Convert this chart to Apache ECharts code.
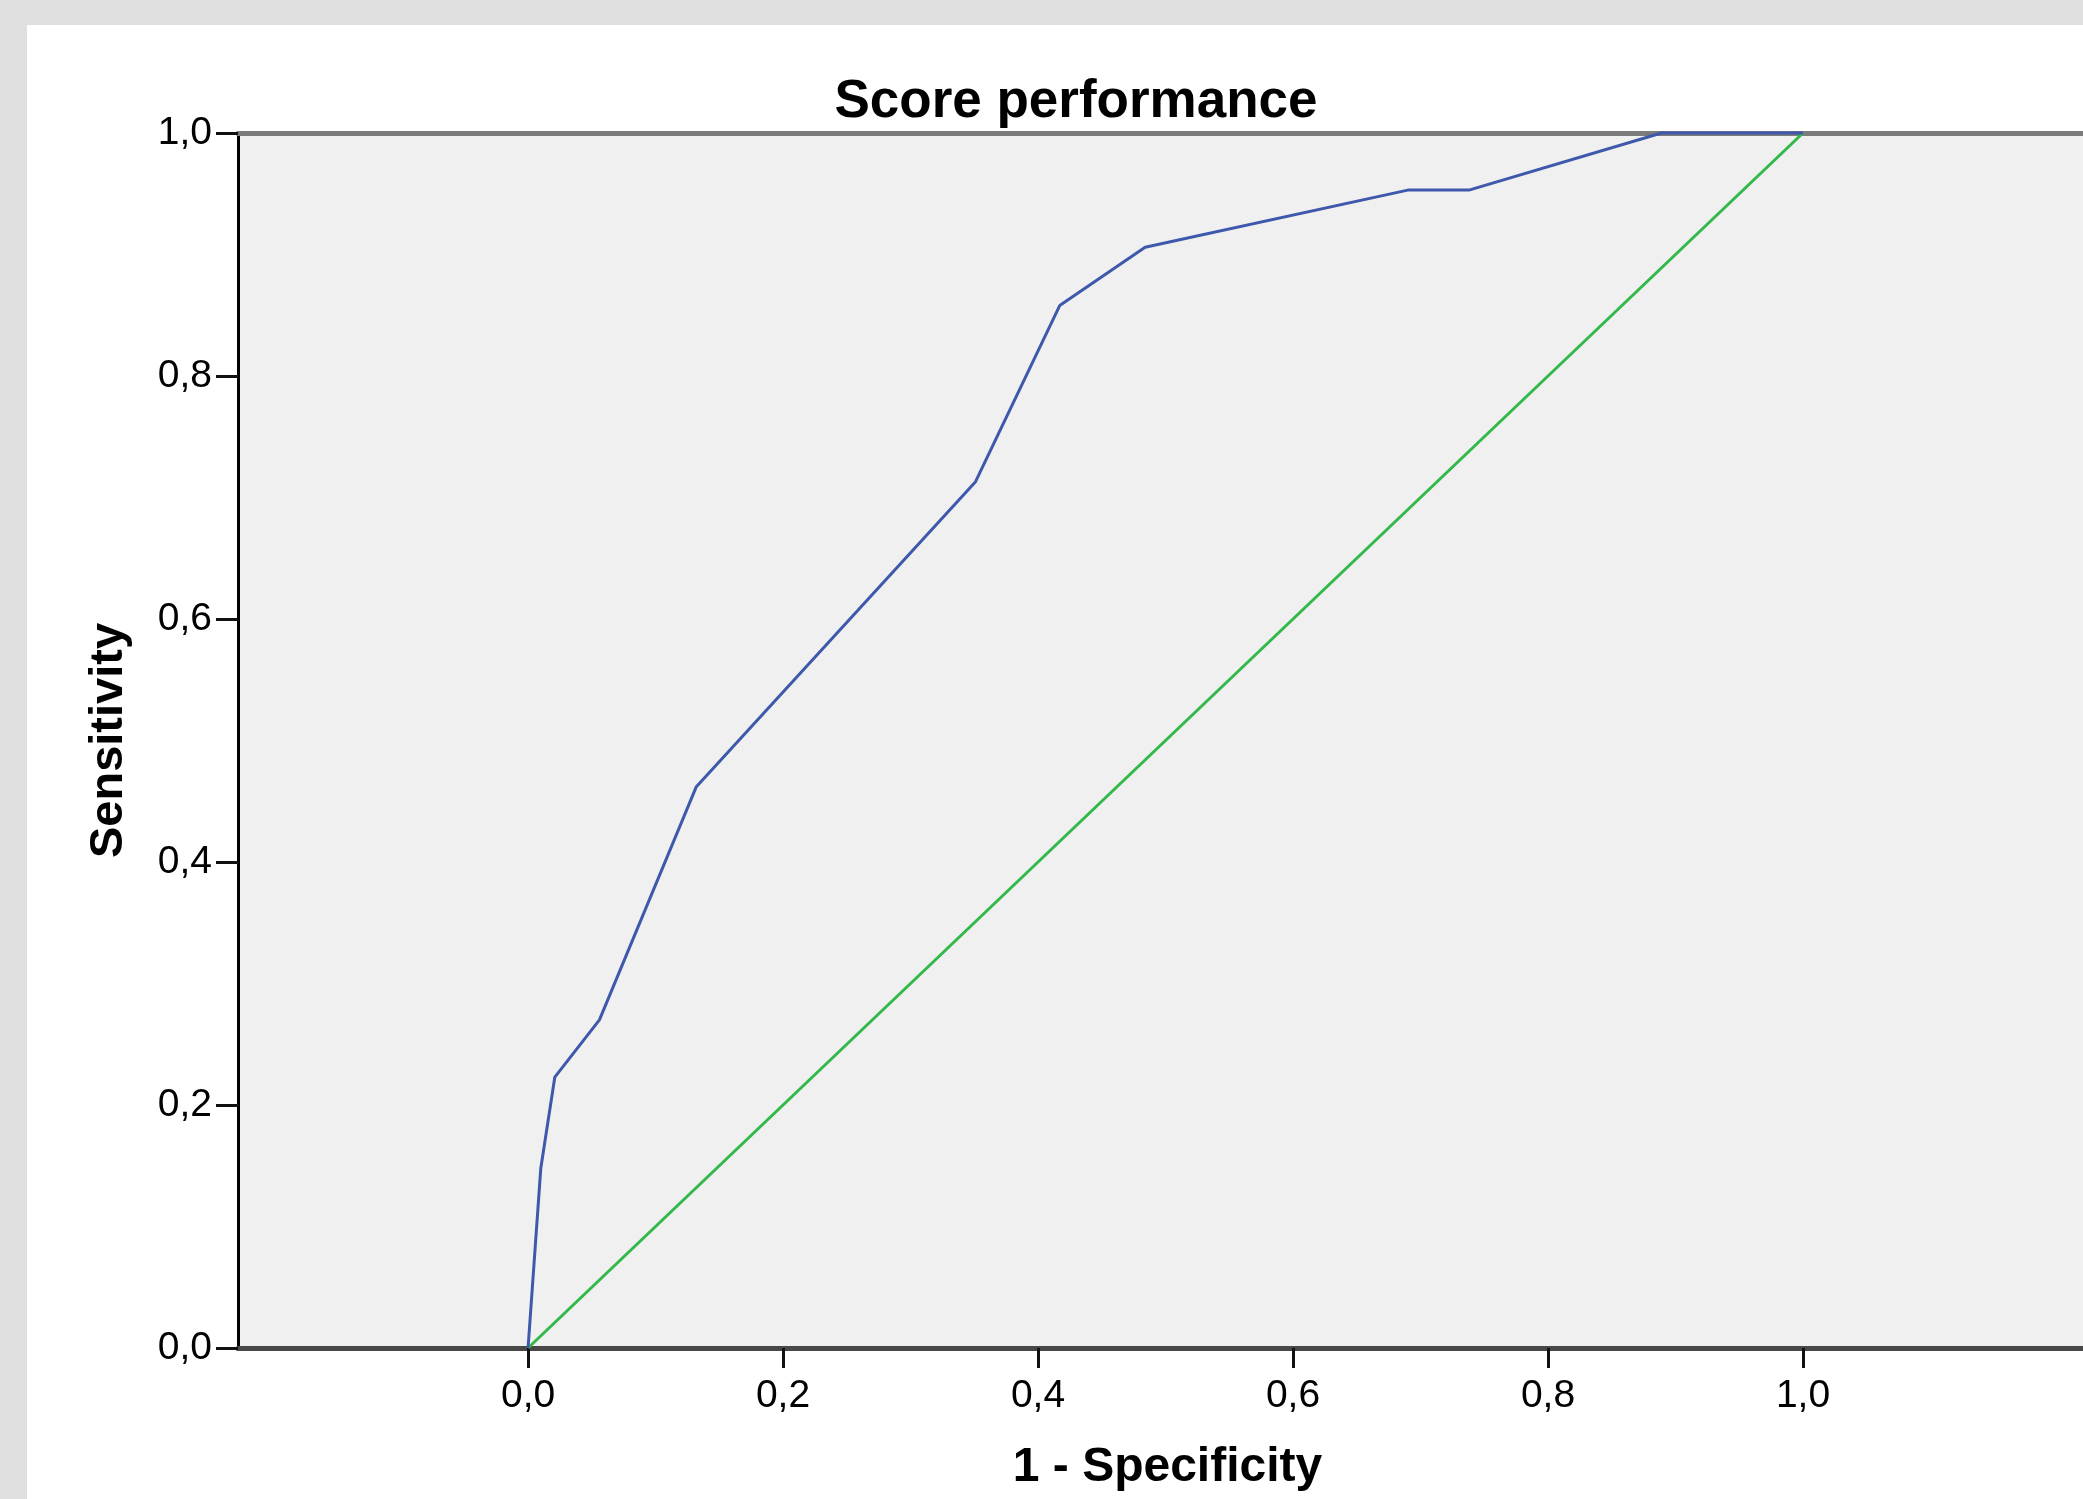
<!DOCTYPE html>
<html>
<head>
<meta charset="utf-8">
<script src="https://cdn.jsdelivr.net/npm/echarts@6/dist/echarts.min.js"></script>
<style>
  html, body { margin: 0; padding: 0; background: #e0e0e0; width: 2083px; height: 1499px; overflow: hidden; }
  #chart { position: absolute; left: 27px; top: 25px; width: 2056px; height: 1474px; background: #ffffff; }
</style>
</head>
<body>
<div id="chart"></div>
<script>
// ---- Data ----
const chartTitle = 'Score performance';
const xAxisTitle = '1 - Specificity';
const yAxisTitle = 'Sensitivity';
const xTickValues = [0, 0.2, 0.4, 0.6, 0.8, 1.0];
const yTickValues = [0, 0.2, 0.4, 0.6, 0.8, 1.0];
// ROC curve (1 - specificity, sensitivity)
const rocFpr = [0, 0.010, 0.021, 0.056, 0.132, 0.351, 0.417, 0.484, 0.690, 0.738, 0.889, 1.0];
const rocTpr = [0, 0.148, 0.223, 0.270, 0.462, 0.713, 0.858, 0.906, 0.953, 0.953, 1.0, 1.0];
// Reference diagonal
const refX = [0, 1];
const refY = [0, 1];

const fmt = v => (Math.round(v * 10) / 10).toFixed(1).replace('.', ',');
const FONT = "'Liberation Sans', Arial, Helvetica, sans-serif";

const chart = echarts.init(document.getElementById('chart'), null, { renderer: 'canvas' });
const option = {
  animation: false,
  backgroundColor: '#ffffff',
  title: {
    text: chartTitle,
    left: 1049,
    top: 51,
    textAlign: 'center',
    padding: 0,
    textStyle: { fontFamily: FONT, fontSize: 53, fontWeight: 'bold', color: '#000000' }
  },
  grid: {
    left: 211, top: 108, right: -14, bottom: 151,
    show: true, backgroundColor: '#f0f0f0', borderWidth: 0,
    containLabel: false,
    outerBoundsMode: 'none'
  },
  xAxis: [
    {
      type: 'value',
      min: -0.2275, max: 1.2306,
      position: 'bottom',
      name: xAxisTitle,
      nameLocation: 'middle',
      nameGap: 96,
      nameTextStyle: { fontFamily: FONT, fontSize: 48, fontWeight: 'bold', color: '#000000' },
      splitLine: { show: false },
      axisLine: { show: true, onZero: false, lineStyle: { color: '#474747', width: 5 } },
      axisTick: { show: true, customValues: xTickValues, length: 20, lineStyle: { color: '#111111', width: 3 } },
      axisLabel: { show: true, customValues: xTickValues, formatter: fmt, margin: 29,
                   fontFamily: FONT, fontSize: 39, color: '#000000' }
    },
    {
      type: 'value',
      min: -0.2275, max: 1.2306,
      position: 'top',
      splitLine: { show: false },
      axisLine: { show: true, onZero: false, lineStyle: { color: '#7c7c7c', width: 5 } },
      axisTick: { show: false },
      axisLabel: { show: false }
    }
  ],
  yAxis: {
    type: 'value',
    min: 0, max: 1, interval: 0.2,
    name: yAxisTitle,
    nameLocation: 'middle',
    nameGap: 105,
    nameTextStyle: { fontFamily: FONT, fontSize: 47, fontWeight: 'bold', color: '#000000' },
    splitLine: { show: false },
    axisLine: { show: true, onZero: false, lineStyle: { color: '#000000', width: 3 } },
    axisTick: { show: true, length: 22, lineStyle: { color: '#111111', width: 3 } },
    axisLabel: { show: true, formatter: fmt, margin: 26, fontFamily: FONT, fontSize: 39, color: '#000000' }
  },
  series: [
    {
      type: 'line',
      name: 'Reference',
      xAxisIndex: 0,
      data: refX.map((x, i) => [x, refY[i]]),
      symbol: 'none',
      clip: false,
      lineStyle: { color: '#33b84a', width: 3 },
      z: 3
    },
    {
      type: 'line',
      name: 'Score',
      xAxisIndex: 0,
      data: rocFpr.map((x, i) => [x, rocTpr[i]]),
      symbol: 'none',
      clip: false,
      lineStyle: { color: '#3e58ac', width: 3 },
      z: 4
    }
  ]
};
chart.setOption(option);
</script>
</body>
</html>
